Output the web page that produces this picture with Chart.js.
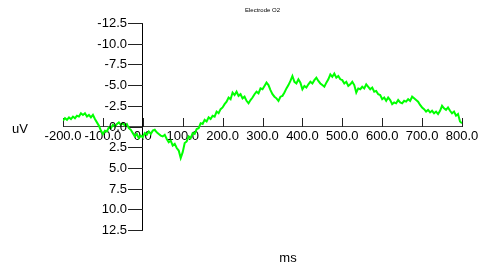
<!DOCTYPE html>
<html>
<head>
<meta charset="utf-8">
<script src="https://cdn.jsdelivr.net/npm/chart.js@4/dist/chart.umd.min.js"></script>
<style>
html,body{margin:0;padding:0;background:#fff;}
#wrap{width:482px;height:267px;}
</style>
</head>
<body>
<div id="wrap"><canvas id="erpChart" width="482" height="267"></canvas></div>
<script>

// Electrode O2, time in ms, amplitude in uV (negative up)
const title = "Electrode O2";
const xTitle = "ms";
const yTitle = "uV";

const xMin = -200;
const xMax = 800;
const xStep = 5;

const yMin = -12.5;
const yMax = 12.5;

const amplitude = [
-0.7,-1.0,-0.8,-1.1,-0.9,-1.2,-1.0,-1.3,-1.2,-1.6,
-1.4,-1.6,-1.2,-1.4,-1.1,-1.4,-0.9,-0.5,-0.1,0.5,
0.9,0.5,0.6,0.1,0.2,-0.2,0.0,-0.3,-0.5,-0.2,
-0.4,-0.1,-0.3,0.2,0.4,0.8,1.2,0.9,1.4,1.1,
1.3,0.8,1.0,0.6,0.9,0.5,0.4,0.7,0.9,1.1,
1.2,1.0,1.5,1.9,1.7,2.3,2.1,2.6,2.9,3.8,
3.1,2.0,1.8,1.2,1.4,0.8,0.9,0.3,0.2,-0.4,
-0.3,-0.8,-0.6,-1.1,-0.9,-1.3,-1.2,-1.8,-1.6,-2.1,
-2.3,-2.7,-3.0,-3.5,-3.3,-4.1,-3.8,-4.2,-3.7,-3.9,
-3.4,-3.6,-3.1,-2.8,-3.2,-3.5,-3.9,-4.2,-4.0,-4.6,
-4.5,-4.9,-5.3,-5.0,-4.4,-3.9,-3.6,-3.4,-3.1,-3.6,
-3.7,-4.1,-4.6,-5.0,-5.5,-6.1,-5.4,-5.2,-5.7,-5.3,
-4.5,-4.9,-4.7,-5.1,-5.4,-5.2,-5.6,-5.9,-5.5,-5.2,
-5.0,-4.8,-5.3,-5.7,-6.3,-6.0,-6.4,-5.9,-6.1,-5.7,
-5.6,-5.2,-5.4,-4.9,-5.1,-5.4,-5.0,-4.1,-4.6,-4.5,
-4.8,-4.6,-5.1,-4.8,-4.5,-4.7,-4.2,-4.3,-3.9,-3.8,
-3.3,-3.5,-3.1,-3.5,-3.2,-2.7,-2.9,-2.8,-3.2,-2.9,
-2.8,-3.1,-3.0,-3.3,-3.1,-3.6,-3.4,-3.2,-3.0,-2.6,
-2.3,-2.1,-1.8,-2.0,-1.7,-1.9,-1.6,-1.8,-1.5,-1.9,
-2.5,-2.2,-2.0,-2.3,-1.9,-1.6,-1.8,-1.3,-1.5,-0.6,
-0.4
];

let points = [];
for(let i=0;i<amplitude.length;i++){
points.push({x:xMin+i*xStep,y:amplitude[i]});
}

const fontName = "'Liberation Sans', Arial, sans-serif";

// short tick marks on the crossing axes, from the scales' own ticks
const tickMarks = {
id:"tickMarks",
beforeDatasetsDraw(chart){
const ctx = chart.ctx;
const xs = chart.scales.x;
const ys = chart.scales.y;
const y0 = Math.round(ys.getPixelForValue(0));
const x0 = Math.round(xs.getPixelForValue(0));
ctx.save();
ctx.fillStyle = "#222";
xs.ticks.forEach(t=>{
ctx.fillRect(Math.round(xs.getPixelForValue(t.value)),y0-9,1,9);
});
ys.ticks.forEach(t=>{
ctx.fillRect(x0-15,Math.round(ys.getPixelForValue(t.value)),15,1);
});
ctx.restore();
}
};

// y tick labels sit left of the crossing axis, plus the loose texts
const extras = {
id:"extras",
afterDraw(chart){
const ctx = chart.ctx;
const xs = chart.scales.x;
const ys = chart.scales.y;
const x0 = Math.round(xs.getPixelForValue(0));
ctx.save();
ctx.fillStyle = "#000";
ctx.textBaseline = "middle";
ctx.font = "13px "+fontName;
ctx.textAlign = "right";
ys.ticks.forEach(t=>{
ctx.fillText(t.value.toFixed(1),x0-16,ys.getPixelForValue(t.value)+0.5);
});
ctx.textAlign = "center";
ctx.fillText(yTitle,20,129);
ctx.fillText(xTitle,288,258);
ctx.font = "6px "+fontName;
ctx.fillText(title,(chart.chartArea.left+chart.chartArea.right)/2,10);
ctx.restore();
}
};

new Chart(document.getElementById("erpChart"),{
type:"line",
data:{
datasets:[{
data:points,
borderColor:"#00ff00",
borderWidth:2,
pointRadius:0,
tension:0,
fill:false
}]
},
options:{
responsive:false,
animation:false,
layout:{padding:{left:63,right:20,top:23,bottom:37}},
plugins:{
legend:{display:false},
tooltip:{enabled:false}
},
scales:{
x:{
type:"linear",
min:xMin,
max:xMax,
position:{y:0},
grid:{drawOnChartArea:false,drawTicks:false},
border:{color:"#444",width:1},
ticks:{
stepSize:100,
padding:2,
color:"#000",
maxRotation:0,
autoSkip:false,
font:{family:fontName,size:13},
callback:v=>v.toFixed(1)
}
},
y:{
type:"linear",
min:yMin,
max:yMax,
reverse:true,
position:{x:0},
grid:{drawOnChartArea:false,drawTicks:false},
border:{color:"#000",width:1},
ticks:{
stepSize:2.5,
color:"rgba(0,0,0,0)",
autoSkip:false,
font:{family:fontName,size:13},
callback:v=>v.toFixed(1)
}
}
}
},
plugins:[tickMarks,extras]
});

</script>
</body>
</html>
